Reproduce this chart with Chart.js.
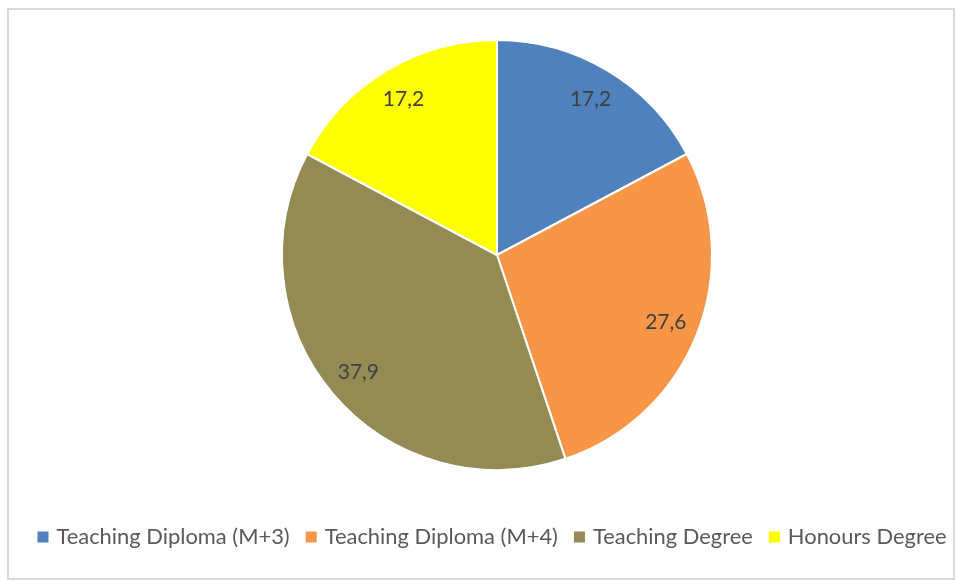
<!DOCTYPE html>
<html>
<head>
<meta charset="utf-8">
<script src="https://cdn.jsdelivr.net/npm/chart.js@4/dist/chart.umd.min.js"></script>
<style>
  html, body { margin: 0; padding: 0; background: #ffffff; }
  #frame { position: absolute; left: 7px; top: 8px; width: 944px; height: 568px; border: 2px solid #d9d9d9; }
  #wrap { position: absolute; left: 0; top: 0; width: 956px; height: 581px; }
</style>
</head>
<body>
<div id="frame"></div>
<div id="wrap"><canvas id="c" width="956" height="581"></canvas></div>
<script>
const categories = ["Teaching Diploma (M+3)", "Teaching Diploma (M+4)", "Teaching Degree", "Honours Degree"];
const values = [17.2, 27.6, 37.9, 17.2];
const valueLabels = ["17,2", "27,6", "37,9", "17,2"];
const colors = ["#4f81bd", "#f79646", "#948a54", "#ffff00"];

const FONT = "Lato, 'Open Sans', sans-serif";

const sliceLabels = {
  id: 'sliceLabels',
  afterDatasetsDraw(chart) {
    const ctx = chart.ctx;
    const meta = chart.getDatasetMeta(0);
    ctx.save();
    ctx.font = "21px " + FONT;
    ctx.fillStyle = "#404040";
    ctx.textAlign = "center";
    ctx.textBaseline = "middle";
    meta.data.forEach((arc, i) => {
      const p = arc.getProps(['x', 'y', 'startAngle', 'endAngle', 'outerRadius'], true);
      const mid = (p.startAngle + p.endAngle) / 2;
      const r = p.outerRadius * 0.845;
      ctx.fillText(valueLabels[i], p.x + Math.cos(mid) * r, p.y + Math.sin(mid) * r);
    });
    ctx.restore();
  }
};

const bottomLegend = {
  id: 'bottomLegend',
  afterDraw(chart) {
    const ctx = chart.ctx;
    const box = 11, textGap = 8, itemGap = 16;
    const cy = 537;
    ctx.save();
    ctx.font = "21.9px " + FONT;
    ctx.textBaseline = "middle";
    ctx.textAlign = "left";
    const widths = categories.map(t => ctx.measureText(t).width);
    let total = 0;
    widths.forEach((w, i) => { total += box + textGap + w + (i < widths.length - 1 ? itemGap : 0); });
    let x = 492 - total / 2;
    categories.forEach((t, i) => {
      ctx.fillStyle = colors[i];
      ctx.fillRect(x, cy - box / 2, box, box);
      x += box + textGap;
      ctx.fillStyle = "#595959";
      ctx.fillText(t, x, cy);
      x += widths[i] + itemGap;
    });
    ctx.restore();
  }
};

new Chart(document.getElementById('c'), {
  type: 'pie',
  data: {
    labels: categories,
    datasets: [{
      data: values,
      backgroundColor: colors,
      borderColor: "#ffffff",
      borderWidth: 2,
      radius: 215
    }]
  },
  options: {
    responsive: false,
    animation: false,
    layout: { padding: { left: 38, right: 0, top: 0, bottom: 71 } },
    plugins: {
      tooltip: { enabled: false },
      legend: { display: false }
    }
  },
  plugins: [sliceLabels, bottomLegend]
});
</script>
</body>
</html>
